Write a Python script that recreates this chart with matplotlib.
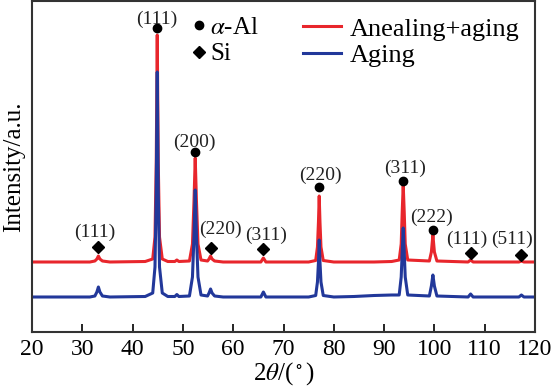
import matplotlib
matplotlib.use('Agg')
import matplotlib.pyplot as plt
from matplotlib.lines import Line2D

plt.rcParams['font.family'] = ['Liberation Serif', 'DejaVu Serif']
plt.rcParams['mathtext.fontset'] = 'stix'

# 衍射谱 (读图估计的折线点)
two_theta = [20, 31.5, 32.5, 32.9, 33.2, 33.5, 34.0, 35.5,
             42.5, 44.0, 44.45, 44.7, 44.9, 45.1, 45.35, 45.9,
             47.0, 48.4, 48.8, 49.2,
             51.3, 51.9, 52.2, 52.45, 52.7, 53.0, 53.6,
             54.9, 55.2, 55.5, 55.8, 56.3, 58.0,
             65.5, 66.0, 66.5,
             75.0, 76.4, 76.75, 76.95, 77.1, 77.25, 77.45, 77.9,
             80.0, 84.0, 88.0, 91.5,
             93.0, 93.4, 93.6, 93.8, 94.0, 94.2, 94.7,
             99.0, 99.4, 99.7, 100.0, 100.5,
             106.7, 107.2, 107.7, 116.8, 117.3, 117.8, 120]
int_anneal = [70, 70, 71, 73, 76, 73, 71, 70,
              70.5, 73, 95, 170, 297, 170, 95, 73,
              70.5, 70.5, 72, 70.5,
              71, 88, 130, 174, 130, 88, 72,
              71, 73, 76, 73, 71, 70,
              70, 74, 70,
              70, 71.5, 85, 110, 136, 110, 85, 71.5,
              70, 70, 70, 70.5,
              72, 88, 120, 147, 120, 88, 72,
              71, 80, 97, 80, 71,
              70, 72, 70, 70, 71, 70, 70]
int_aging = [35, 35, 36, 40, 45, 40, 36, 35,
             35.5, 39, 65, 140, 260, 140, 65, 39,
             35.5, 35.5, 37.5, 35.5,
             36, 55, 95, 142, 95, 55, 37,
             36, 39, 43, 39, 36, 35,
             35, 40, 35,
             35, 36.5, 50, 70, 92, 70, 50, 36.5,
             35, 35.5, 36.5, 37,
             37, 55, 80, 104, 80, 55, 37,
             36, 46, 57, 46, 36,
             35, 38, 35, 35, 37, 35, 35]

# 物相标记
al_pos = [44.9, 52.5, 77.1, 93.8, 99.7]
al_mark = [304, 180, 145, 151, 102]
al_hkl = ['(111)', '(200)', '(220)', '(311)', '(222)']
si_pos = [33.2, 55.5, 66.0, 107.3, 117.3]
si_mark = [85, 84, 83, 79, 77]
si_hkl = ['(111)', '(220)', '(311)', '(111)', '(511)']

red = '#e8262c'
blue = '#22389a'

fig = plt.figure(figsize=(5.55, 3.89), dpi=100)
ax = fig.add_axes([32 / 555, 1 - 332 / 389, 503 / 555, 331 / 389])

ax.plot(two_theta, int_anneal, color=red, lw=2.2, label='Anealing+aging')
ax.plot(two_theta, int_aging, color=blue, lw=2.2, label='Aging')

ax.plot(al_pos, al_mark, 'o', color='black', ms=6)
ax.plot(si_pos, si_mark, 'D', color='black', ms=6)

# 晶面标注
al_txt = [(44.85, 313), (52.3, 190), (77.26, 157), (94.15, 164), (99.5, 115)]
si_txt = [(32.5, 100), (57.4, 103), (66.5, 97), (106.5, 93), (115.4, 93)]
for (tx, ty), s in zip(al_txt + si_txt, al_hkl + si_hkl):
    ax.text(tx, ty, s, ha='center', va='center', fontsize=14, color='#222222')

ax.set_xlim(20, 120)
ax.set_ylim(0, 331)
ax.set_xticks(range(20, 121, 10))
ax.set_yticks([])
ax.tick_params(axis='x', direction='in', length=6, width=1.2, labelsize=17, pad=5)
for sp in ax.spines.values():
    sp.set_linewidth(1.5)
    sp.set_color('#333333')

ax.set_xlabel(r'2$\theta$/($^\circ$)', fontsize=18, labelpad=0)
ax.set_ylabel('Intensity/a.u.', fontsize=18, labelpad=5)

# 图例
phase_handles = [Line2D([], [], marker='o', ls='', color='black', ms=6),
                 Line2D([], [], marker='D', ls='', color='black', ms=6)]
leg1 = ax.legend(phase_handles, [r'$\alpha$-Al', 'Si'], loc='upper left',
                 bbox_to_anchor=((179 - 32) / 503, 1 - 3 / 331), frameon=False,
                 fontsize=18, handlelength=0.6, handletextpad=0.15, borderpad=0,
                 labelspacing=0.15)
ax.add_artist(leg1)
ax.legend(loc='upper left', bbox_to_anchor=((290 - 32) / 503, 1 - 3 / 331),
          frameon=False, fontsize=19, handlelength=1.45, handletextpad=0.3,
          borderpad=0, labelspacing=0.1)

plt.savefig('out.png', dpi=100)
